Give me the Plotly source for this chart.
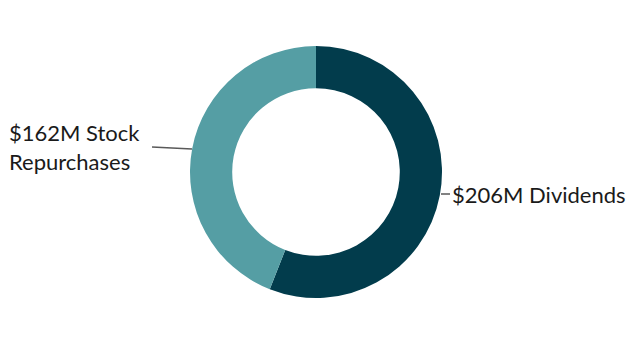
import plotly.graph_objects as go

labels = ["$206M Dividends", "$162M Stock<br>Repurchases"]
values = [206, 162]
colors = ["#023c4c", "#559ea4"]

W, H = 632, 344
cx, cy, r = 316, 172, 126

fig = go.Figure(go.Pie(
    labels=labels, values=values, hole=0.665, sort=False, direction="clockwise",
    rotation=0, marker=dict(colors=colors, line=dict(width=0)),
    textinfo="none", hoverinfo="label", showlegend=False,
    domain=dict(x=[(cx - r) / W, (cx + r) / W], y=[1 - (cy + r) / H, 1 - (cy - r) / H]),
))

font = dict(family="Lato, 'Open Sans', sans-serif", size=22, color="#1a1a1a")
fig.add_annotation(x=450 / W, y=1 - 194 / H, xref="paper", yref="paper", text=labels[0],
                   showarrow=False, xanchor="left", yanchor="middle", font=font)
fig.add_annotation(x=7 / W, y=1 - 147 / H, xref="paper", yref="paper", text=labels[1],
                   showarrow=False, xanchor="left", yanchor="middle", align="left", font=font)
fig.add_shape(type="line", xref="paper", yref="paper", x0=441 / W, x1=450 / W,
              y0=1 - 194 / H, y1=1 - 194 / H, line=dict(color="#595959", width=1.5))
fig.add_shape(type="line", xref="paper", yref="paper", x0=152 / W, x1=192 / W,
              y0=1 - 147 / H, y1=1 - 149 / H, line=dict(color="#595959", width=1.5))

fig.update_layout(width=W, height=H, margin=dict(l=0, r=0, t=0, b=0),
                  paper_bgcolor="white", plot_bgcolor="white")
fig.write_html("out.html")
